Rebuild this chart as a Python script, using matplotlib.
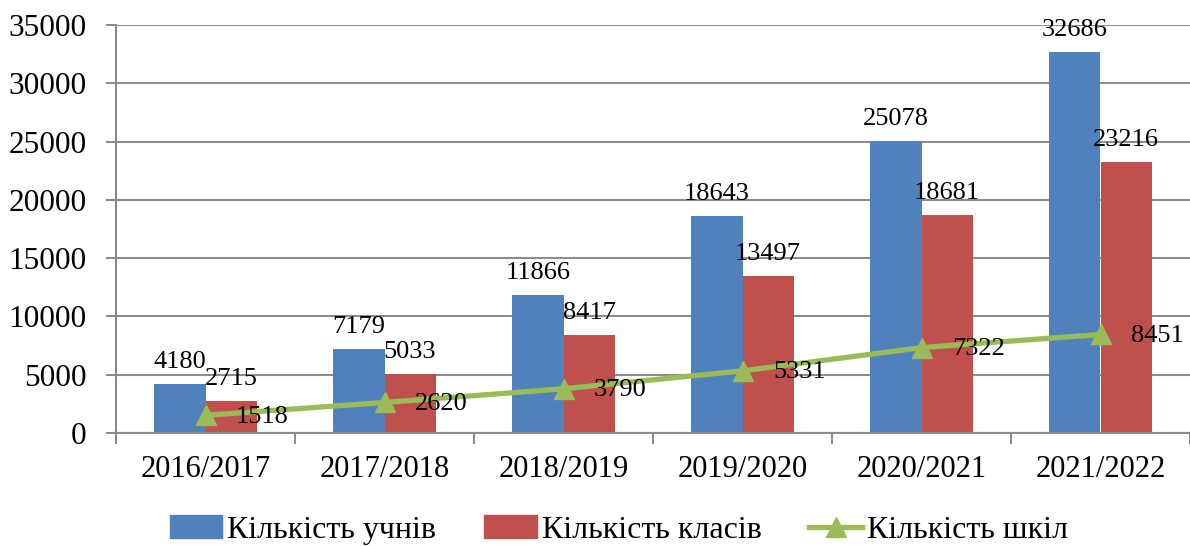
import matplotlib
matplotlib.use('Agg')
from matplotlib import pyplot as plt
from matplotlib.patches import Patch
from matplotlib.lines import Line2D
import numpy as np

plt.rcParams['font.family'] = ['Liberation Serif', 'DejaVu Serif']

# навчальні роки
years = ['2016/2017', '2017/2018', '2018/2019', '2019/2020', '2020/2021', '2021/2022']
pupils = [4180, 7179, 11866, 18643, 25078, 32686]
classes = [2715, 5033, 8417, 13497, 18681, 23216]
schools = [1518, 2620, 3790, 5331, 7322, 8451]

c_blue = '#4F81BD'
c_red = '#C0504D'
c_green = '#9BBB59'
c_grid = '#8c8c8c'

fig = plt.figure(figsize=(11.9, 5.46), dpi=100)
ax = fig.add_axes([116/1190, 1 - 433/546, 1 - 116/1190, 408/546])

x = np.arange(len(years))
w = 1 / 3.5
ax.bar(x - w/2, pupils, w, color=c_blue, zorder=2)
ax.bar(x + w/2, classes, w, color=c_red, zorder=2)
ax.plot(x, schools, color=c_green, lw=3.8, marker='^', ms=15, zorder=3)

for i in range(len(years)):
    ax.annotate(str(pupils[i]), (x[i] - w/2, pupils[i]), xytext=(0, 8),
                textcoords='offset points', ha='center', va='bottom', fontsize=19)
    ax.annotate(str(classes[i]), (x[i] + w/2, classes[i]), xytext=(0, 8),
                textcoords='offset points', ha='center', va='bottom', fontsize=19)
    ax.annotate(str(schools[i]), (x[i], schools[i]), xytext=(22, -1),
                textcoords='offset points', ha='left', va='center', fontsize=19)

ax.set_xlim(-0.5, len(years) - 0.5)
ax.set_ylim(0, 35000)
ax.set_yticks(np.arange(0, 35001, 5000))
ax.set_xticks(x)
ax.set_xticklabels(years, fontsize=22)
ax.set_xticks(np.arange(-0.5, len(years), 1), minor=True)
ax.tick_params(axis='y', labelsize=22.5, length=7, width=1.5, color=c_grid, pad=14)
ax.tick_params(axis='x', which='major', length=0, pad=16)
ax.tick_params(axis='x', which='minor', length=8, width=1.5, color=c_grid)
ax.yaxis.grid(True, color=c_grid, lw=1.5, zorder=0)
ax.set_axisbelow(True)
for s in ['top', 'right']:
    ax.spines[s].set_visible(False)
for s in ['left', 'bottom']:
    ax.spines[s].set_color(c_grid)
    ax.spines[s].set_linewidth(1.5)

handles = [Patch(color=c_blue), Patch(color=c_red),
           Line2D([], [], color=c_green, lw=3.8, marker='^', ms=15)]
labels = ['Кількість учнів', 'Кількість класів', 'Кількість шкіл']
fig.legend(handles, labels, loc='center', bbox_to_anchor=(0.52, 16/546), ncol=3,
           frameon=False, fontsize=23, handlelength=1.65, handletextpad=0.15,
           columnspacing=1.5)

fig.savefig('out.png', dpi=100)
